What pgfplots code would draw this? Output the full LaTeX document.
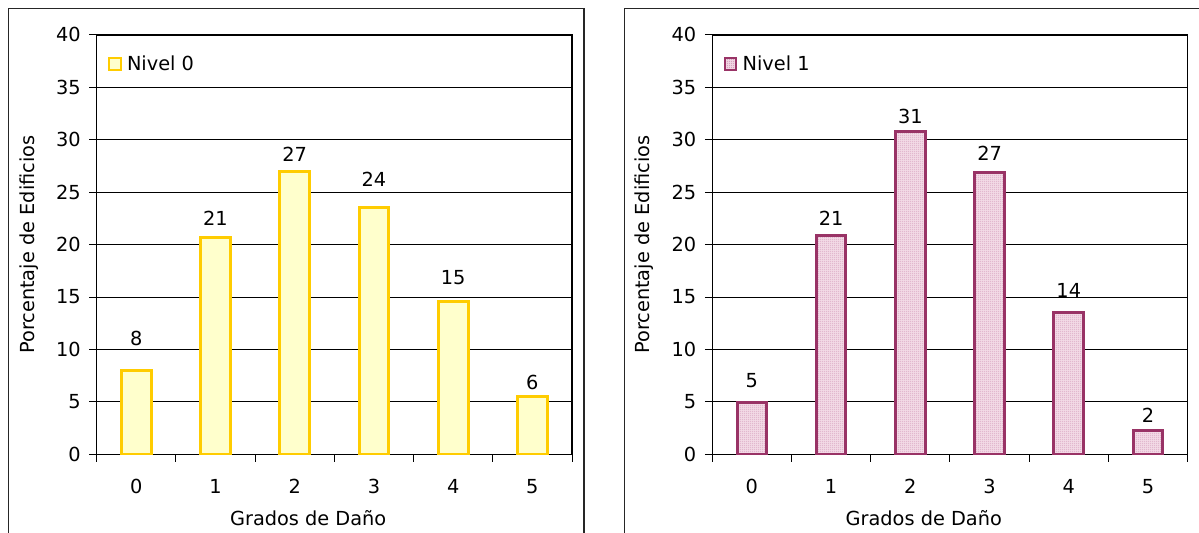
\documentclass[border=0pt]{standalone}
\usepackage{pgfplots}
\pgfplotsset{compat=1.18}
\usepackage{pgfplotstable}
\usepackage{fontspec}
\setmainfont{DejaVu Sans}
\usetikzlibrary{patterns.meta}

\definecolor{gold}{HTML}{FFCC00}
\definecolor{paleyellow}{HTML}{FFFFCC}
\definecolor{plum}{HTML}{993366}
\definecolor{palepink}{HTML}{F3DAE6}
\definecolor{dotpink}{HTML}{C47CA2}

\newcommand{\fs}{\fontsize{14.5}{17}\selectfont}

% fine dotted texture for the second series
\tikzdeclarepattern{
  name=fine dots,
  type=uncolored,
  bounding box={(0pt,0pt) and (1.6pt,1.6pt)},
  tile size={(1.6pt,1.6pt)},
  code={\pgfpathcircle{\pgfpoint{0.8pt}{0.8pt}}{0.5pt}\pgfusepath{fill}}
}

% g = damage grade, v = percentage of buildings, off = label offset (pt)
\pgfplotstableread{
g v off
0 8.0 24.3
1 20.7 14.0
2 27.0 12.5
3 23.5 21.2
4 14.6 18.0
5 5.5 10.8
}\nivelzero

\pgfplotstableread{
g v off
0 4.9 16.5
1 20.9 12.5
2 30.8 11.5
3 26.9 14.0
4 13.5 16.5
5 2.3 11.3
}\niveluno

\pgfplotsset{
  damage/.style={
    scale only axis,
    width=356.5pt, height=314.5pt,
    ymin=0, ymax=40, ytick={0,5,...,40},
    xmin=-0.5, xmax=5.5,
    xtick={-0.5,0.5,...,5.5},
    xticklabels={0,1,2,3,4,5},
    x tick label as interval,
    ymajorgrids,
    major grid style={black, line width=0.75pt},
    axis line style={black, line width=1pt},
    tick style={black, line width=0.75pt},
    tick align=outside,
    major tick length=5.5pt,
    tick pos=left,
    /pgf/number format/assume math mode=true,
    tick label style={font=\fs, text=black},
    yticklabel style={anchor=east, xshift=-3pt},
    xticklabel style={yshift=-10pt},
    xlabel={Grados de Daño},
    ylabel={Porcentaje de Edificios},
    label style={font=\fs, text=black},
    xlabel style={at={(axis description cs:0.445,-0.152)}, anchor=center},
    ylabel style={at={(axis description cs:-0.143,0.5)}, anchor=center},
    ybar, bar width=0.375, bar shift=0pt,
    legend style={anchor=north west, draw=none, fill=none,
      inner sep=0pt, outer sep=0pt, font=\fs, text=black,
      legend cell align=left,
      /tikz/every odd column/.style={column sep=2pt}},
  },
  labelled/.style={
    nodes near coords={\pgfmathprintnumber[fixed,precision=0]{\pgfplotspointmeta}},
    point meta=\thisrow{v},
    visualization depends on={\thisrow{off} \as \laboff},
    nodes near coords style={anchor=center, yshift=\laboff pt,
      font=\fs, text=black},
  },
}

\begin{document}
\begin{tikzpicture}
\useasboundingbox (0,0) rectangle (899.25pt,399pt);

\begin{axis}[damage, at={(72.5pt,58.3pt)}, anchor=south west,
  legend style={at={(axis description cs:0.024,0.957)}}]
\addplot[draw=gold, fill=paleyellow, line width=2.25pt, labelled,
  legend image code/.code={\draw[draw=gold, fill=paleyellow, line width=1.6pt]
    (0pt,-4.3pt) rectangle (8.6pt,4.3pt);}]
  table[x=g, y=v] {\nivelzero};
\addlegendentry{Nivel 0}
\end{axis}

\begin{axis}[damage, at={(534.2pt,58.3pt)}, anchor=south west,
  legend style={at={(axis description cs:0.024,0.957)}}]
\addplot[draw=plum, fill=palepink, line width=2.25pt, labelled,
  postaction={pattern=fine dots, pattern color=dotpink},
  legend image code/.code={\draw[draw=plum, fill=palepink, line width=1.6pt,
    postaction={pattern=fine dots, pattern color=dotpink}]
    (0pt,-4.3pt) rectangle (8.6pt,4.3pt);}]
  table[x=g, y=v] {\niveluno};
\addlegendentry{Nivel 1}
\end{axis}

% chart area frames
\draw[black!85, line width=0.8pt] (6.2pt,-5pt) rectangle (438pt,392.3pt);
\draw[black!85, line width=0.8pt] (468.2pt,-5pt) rectangle (905pt,392.3pt);
\end{tikzpicture}
\end{document}
